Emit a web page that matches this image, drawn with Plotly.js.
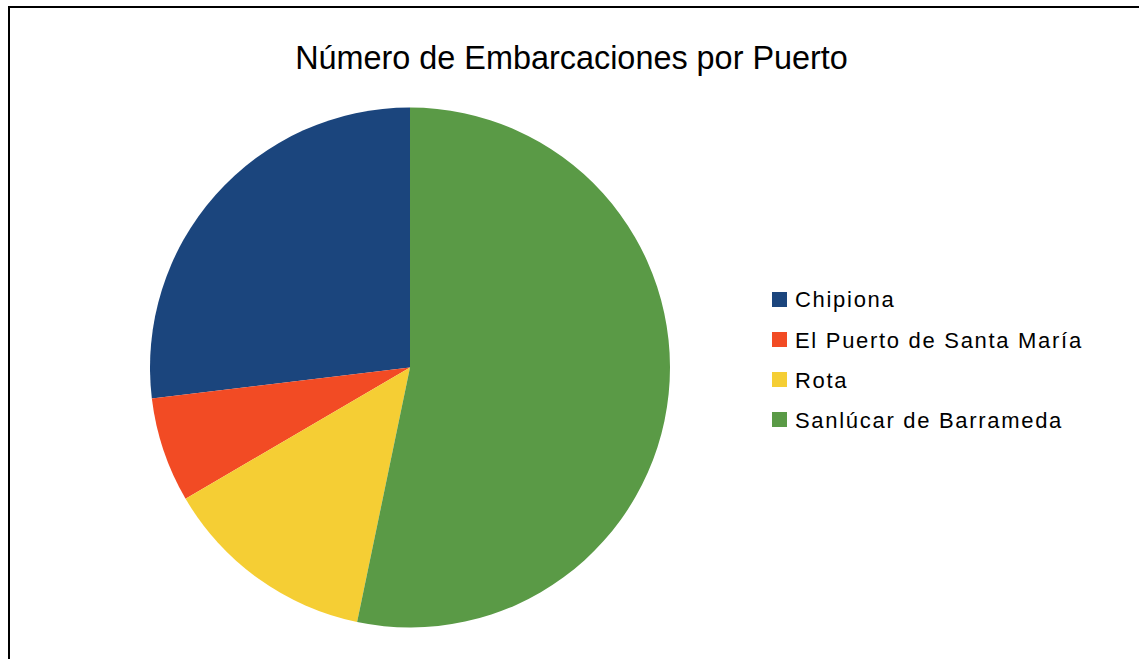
<!DOCTYPE html>
<html>
<head>
<meta charset="utf-8">
<script src="https://cdn.plot.ly/plotly-3.0.1.min.js"></script>
<style>html,body{margin:0;padding:0;background:#fff;}#chart{width:1139px;height:659px;}</style>
</head>
<body>
<div id="chart"></div>
<script>
// Data
const categories = ["Chipiona", "El Puerto de Santa María", "Rota", "Sanlúcar de Barrameda"];
const boats = [99, 24, 49, 196];
const sliceColors = ["#1B457D", "#F24B24", "#F5CE34", "#5A9A46"];
const chartTitle = "Número de Embarcaciones por Puerto";

const W = 1139, H = 659;
const FONT = "Liberation Sans, Arial, sans-serif";
const px = v => v / W;
const py = v => 1 - v / H;

// pie geometry (pixels)
const cx = 410, cy = 367.5, r = 260;
const total = boats.reduce((a, b) => a + b, 0);

const trace = {
  type: "pie",
  labels: categories,
  values: boats,
  sort: false,
  direction: "counterclockwise",
  rotation: -360 * boats[0] / total,
  textinfo: "none",
  hoverinfo: "label+value+percent",
  marker: {colors: sliceColors, line: {width: 0}},
  showlegend: false,
  domain: {x: [px(cx - r), px(cx + r)], y: [py(cy + r), py(cy - r)]}
};

// manual legend
const shapes = [{
  type: "rect", xref: "paper", yref: "paper",
  x0: px(9), x1: 1.05, y0: -0.05, y1: py(7),
  line: {color: "#000", width: 2}, fillcolor: "rgba(0,0,0,0)", layer: "above"
}];
const annotations = [];
const legX = 772, legY0 = 292, legGap = 40, sq = 15;
categories.forEach((c, i) => {
  const top = legY0 + i * legGap;
  shapes.push({
    type: "rect", xref: "paper", yref: "paper",
    x0: px(legX), x1: px(legX + sq), y0: py(top + sq), y1: py(top),
    line: {width: 0}, fillcolor: sliceColors[i]
  });
  annotations.push({
    xref: "paper", yref: "paper", x: px(legX + 21), y: py(top + sq / 2 + 0.5),
    xanchor: "left", yanchor: "middle", showarrow: false,
    text: '<span style="letter-spacing:1.7px">' + c + '</span>',
    font: {family: FONT, size: 22, color: "#000"}
  });
});

const layout = {
  width: W, height: H,
  margin: {l: 0, r: 0, t: 0, b: 0},
  paper_bgcolor: "#fff",
  title: {
    text: chartTitle, x: 571.5 / W, xanchor: "center",
    y: py(58), yanchor: "middle",
    font: {family: FONT, size: 32.4, color: "#000"}
  },
  showlegend: false,
  shapes: shapes,
  annotations: annotations
};

Plotly.newPlot("chart", [trace], layout, {displayModeBar: false, staticPlot: true});
</script>
</body>
</html>
